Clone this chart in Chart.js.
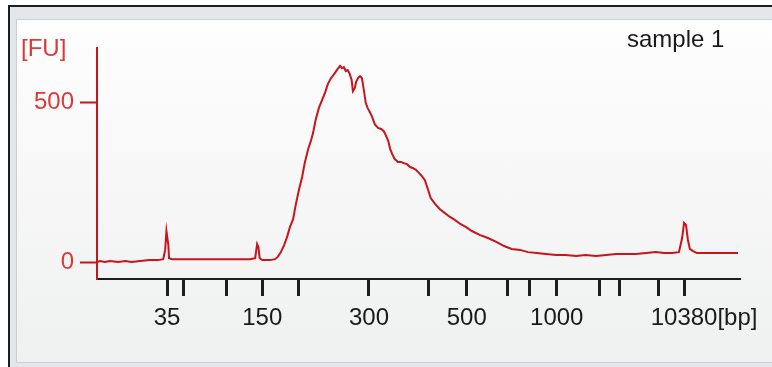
<!DOCTYPE html>
<html>
<head>
<meta charset="utf-8">
<script src="https://cdn.jsdelivr.net/npm/chart.js@4.4.0/dist/chart.umd.min.js"></script>
<style>
  html, body { margin: 0; padding: 0; width: 772px; height: 367px; overflow: hidden; background: #ffffff; }
  .frame { position: absolute; left: 8px; top: 5px; width: 820px; height: 420px;
           border-left: 2px solid #1e1e1e; border-top: 2px solid #1e1e1e; background: #e4e7ea; }
  .panel { position: absolute; left: 16px; top: 19px; width: 800px; height: 342px;
           border: 1px solid #c9cfd4; background: linear-gradient(#fefefe, #f8f8f8 40%, #eff0f0); }
  canvas { position: absolute; left: 0; top: 0; }
</style>
</head>
<body>
<div class="frame"></div>
<div class="panel"></div>
<canvas id="chart" width="772" height="367"></canvas>
<script>
// migration time (s) and fluorescence (FU)
const timeSec = [
  20.0, 20.5, 21.2, 22.0, 23.3, 24.4, 25.4, 26.7, 28.2, 29.5, 30.3, 30.6, 30.8, 31.1, 31.2,
  31.7, 34.5, 39.1, 43.8, 44.6, 44.9, 45.1, 45.3, 45.7, 46.9, 47.7, 48.1, 48.6, 49.1, 49.6,
  50.0, 50.5, 50.9, 51.4, 51.9, 52.3, 52.8, 53.3, 53.6, 54.0, 54.5, 55.0, 55.5, 55.9, 56.4,
  56.9, 57.3, 57.8, 58.1, 58.4, 58.7, 59.0, 59.3, 59.6, 59.8, 60.1, 60.3, 60.6, 60.9, 61.2,
  61.5, 61.8, 62.1, 62.5, 62.8, 63.2, 63.7, 64.2, 64.6, 64.9, 65.3, 65.6, 65.9, 66.3, 66.8,
  67.3, 67.7, 68.2, 68.7, 69.1, 69.6, 70.1, 70.5, 71.0, 71.5, 71.9, 72.6, 73.3, 74.1, 74.9,
  75.7, 76.5, 77.4, 78.3, 79.6, 80.8, 82.1, 83.3, 84.5, 85.8, 87.0, 88.4, 89.8, 91.4, 92.9,
  94.5, 96.0, 97.6, 99.2, 100.7, 102.3, 103.8, 105.4, 106.9, 108.2, 109.4, 110.5, 111.0, 111.3, 111.6,
  111.9, 112.2, 112.7, 113.3, 114.6, 116.1, 117.7, 119.7
];
const fluorescence = [
  0, 3, 0, 3, 0, 3, 0, 3, 6, 6, 9, 38, 97, 53, 12,
  9, 9, 9, 9, 12, 56, 47, 12, 6, 6, 9, 16, 31, 53, 81,
  109, 134, 178, 225, 266, 309, 350, 381, 403, 444, 481, 506, 531, 556, 575,
  588, 600, 613, 606, 609, 597, 600, 588, 569, 534, 544, 563, 575, 581, 575,
  538, 497, 481, 466, 453, 431, 419, 416, 409, 397, 378, 353, 338, 322, 313,
  313, 309, 306, 297, 294, 288, 278, 269, 256, 225, 200, 181, 166, 153, 141,
  131, 119, 109, 97, 84, 75, 63, 50, 41, 38, 31, 28, 25, 22, 22,
  19, 22, 19, 22, 25, 25, 25, 28, 31, 28, 28, 31, 75, 122, 116,
  69, 41, 34, 28, 28, 28, 28, 28
];

// ladder: migration time of each ladder peak and its size
const ladderSec = [30.9, 33.5, 40.1, 45.7, 51.4, 62.3, 71.5, 77.5, 83.8, 87.2, 91.5, 98.2, 101.2, 107.4, 111.3];
const ladderBp = [35, 50, 100, 150, 200, 300, 400, 500, 600, 700, 1000, 2000, 3000, 7000, 10380];
const labeledBp = [35, 150, 300, 500, 1000, 10380];
const yTicks = [0, 500];

const RED = '#c8141c';
const LABEL_RED = '#dc3a3a';
const FONT = 'Liberation Sans, Arial, sans-serif';
const X_PAD = 8;

const textPlugin = {
  id: 'texts',
  afterDraw(chart) {
    const ctx = chart.ctx;
    const x = chart.scales.x;
    ctx.save();
    ctx.font = '24px ' + FONT;
    ctx.textBaseline = 'alphabetic';
    ctx.fillStyle = LABEL_RED;
    ctx.textAlign = 'left';
    ctx.fillText('[FU]', 21, 56);
    ctx.fillStyle = '#1a1a1a';
    ctx.fillText('sample 1', 627, 47);
    // unit after the last ladder label
    const last = ladderSec[ladderSec.length - 1];
    const px = x.getPixelForValue(last) + ctx.measureText(String(ladderBp[ladderBp.length - 1])).width / 2;
    ctx.textBaseline = 'middle';
    ctx.fillText('[bp]', px, x.top + 17 + X_PAD + 14.4);
    ctx.restore();
  }
};

new Chart(document.getElementById('chart'), {
  type: 'line',
  data: {
    datasets: [{
      data: timeSec.map((t, i) => ({ x: t, y: fluorescence[i] })),
      borderColor: RED,
      borderWidth: 2,
      pointRadius: 0,
      tension: 0,
      fill: false
    }]
  },
  options: {
    responsive: false,
    animation: false,
    devicePixelRatio: 1,
    layout: { padding: { left: 0, right: 32, top: 48, bottom: 0 } },
    plugins: { legend: { display: false }, tooltip: { enabled: false }, title: { display: false } },
    scales: {
      x: {
        type: 'linear',
        min: 20,
        max: 120,
        afterBuildTicks: s => { s.ticks = ladderSec.map(v => ({ value: v })); },
        afterFit: s => { s.height = 88; },
        ticks: {
          autoSkip: false,
          maxRotation: 0,
          padding: X_PAD,
          color: '#1a1a1a',
          font: { family: FONT, size: 24 },
          callback: (v) => {
            const i = ladderSec.indexOf(v);
            return i >= 0 && labeledBp.includes(ladderBp[i]) ? String(ladderBp[i]) : '';
          }
        },
        grid: { drawOnChartArea: false, drawTicks: true, tickLength: 17, tickWidth: 3, color: '#1e1e1e' },
        border: { display: true, color: '#1e1e1e', width: 2 }
      },
      y: {
        min: -53,
        max: 669,
        afterBuildTicks: s => { s.ticks = yTicks.map(v => ({ value: v })); },
        afterFit: s => { s.width = 97; },
        ticks: {
          padding: 6,
          color: LABEL_RED,
          font: { family: FONT, size: 24 }
        },
        grid: { drawOnChartArea: false, drawTicks: true, tickLength: 17, tickWidth: 2, color: RED },
        border: { display: true, color: RED, width: 2 }
      }
    }
  },
  plugins: [textPlugin]
});
</script>
</body>
</html>
